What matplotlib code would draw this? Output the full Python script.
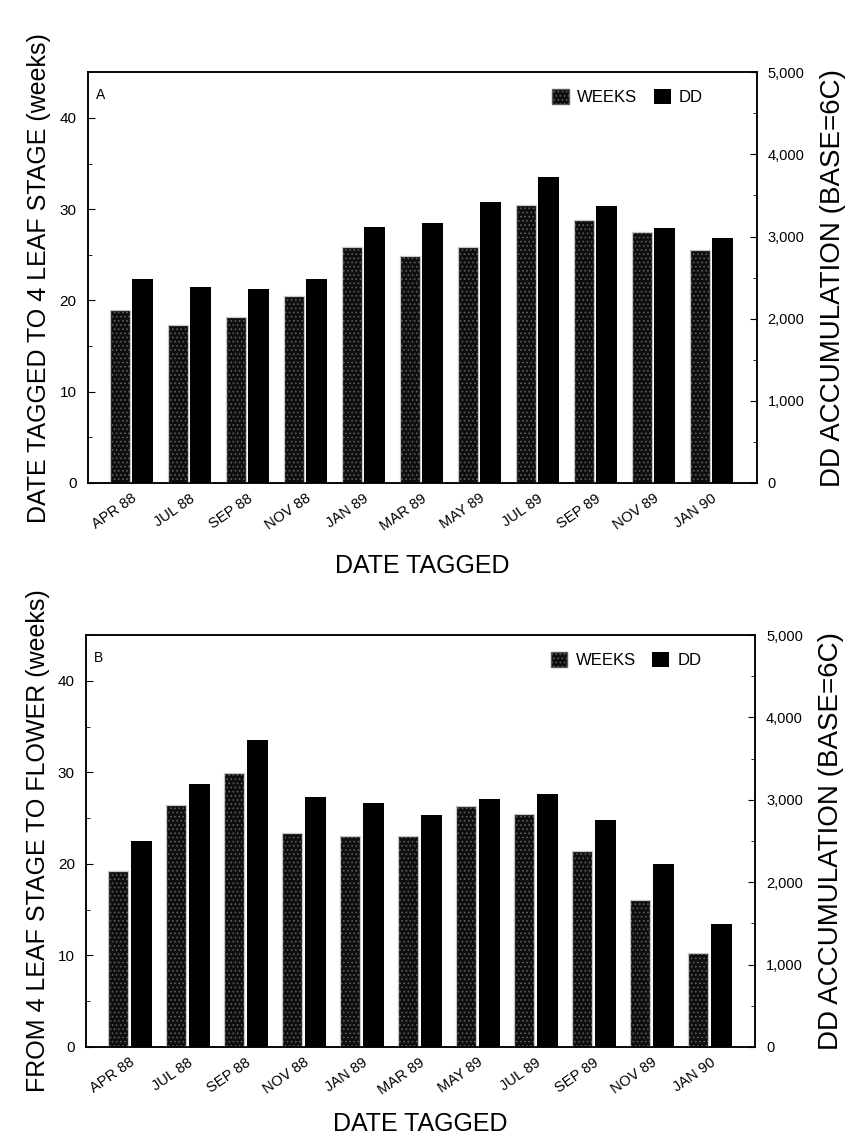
import numpy as np
import matplotlib.pyplot as plt
from matplotlib.patches import Patch
from matplotlib.ticker import MultipleLocator, FuncFormatter

plt.rcParams['font.family'] = ['Liberation Sans', 'DejaVu Sans']
plt.rcParams['hatch.linewidth'] = 0.7

dates = ["APR 88", "JUL 88", "SEP 88", "NOV 88", "JAN 89", "MAR 89",
         "MAY 89", "JUL 89", "SEP 89", "NOV 89", "JAN 90"]

# panel A: date tagged -> 4 leaf stage
weeks_a = [18.9, 17.3, 18.2, 20.5, 25.8, 24.9, 25.8, 30.5, 28.8, 27.5, 25.5]
dd_a = [2480, 2390, 2360, 2480, 3120, 3170, 3420, 3720, 3370, 3100, 2980]

# panel B: 4 leaf stage -> flower
weeks_b = [19.2, 26.4, 29.9, 23.4, 23.0, 23.0, 26.3, 25.5, 21.4, 16.1, 10.3]
dd_b = [2500, 3190, 3730, 3030, 2960, 2810, 3010, 3070, 2760, 2220, 1490]

WEEK_FACE = "#0e0e0e"
WEEK_DOTS = "#5c5c5c"
WEEK_EDGE = "#c8c8c8"


def draw_panel(ax, weeks, dd, letter, ylabel, xpad):
    x = np.arange(len(dates))
    ax2 = ax.twinx()
    # speckled weeks bars: dotted fill, then a light outline on top
    ax.bar(x - 0.2, weeks, 0.34, color=WEEK_FACE, edgecolor=WEEK_DOTS,
           hatch="....", linewidth=0, zorder=2)
    ax.bar(x - 0.2, weeks, 0.34, fill=False, edgecolor=WEEK_EDGE,
           linewidth=0.9, zorder=3)
    ax2.bar(x + 0.2, dd, 0.36, color="black", zorder=2)

    ax.set_xlim(-0.75, 10.78)
    ax.set_ylim(0, 45)
    ax2.set_ylim(0, 5000)

    ax.yaxis.set_major_locator(MultipleLocator(10))
    ax.yaxis.set_minor_locator(MultipleLocator(5))
    ax2.yaxis.set_major_locator(MultipleLocator(1000))
    ax2.yaxis.set_minor_locator(MultipleLocator(500))
    ax2.yaxis.set_major_formatter(FuncFormatter(lambda v, p: f"{int(v):,}"))

    ax.tick_params(axis="y", which="major", direction="in", length=5,
                   labelsize=11, pad=8)
    ax.tick_params(axis="y", which="minor", direction="in", length=3)
    ax2.tick_params(axis="y", which="major", direction="in", length=5,
                    labelsize=10.5, pad=8)
    ax2.tick_params(axis="y", which="minor", direction="in", length=3)

    ax.set_xticks(x)
    ax.set_xticklabels(dates, rotation=35, ha="right",
                       rotation_mode="anchor", fontsize=10.5)
    ax.tick_params(axis="x", length=0, pad=6)

    for sp in list(ax.spines.values()) + list(ax2.spines.values()):
        sp.set_linewidth(1.1)

    ax.set_xlabel("DATE TAGGED", fontsize=18, labelpad=xpad)
    ax.set_ylabel(ylabel, fontsize=18, labelpad=6)
    ax2.set_ylabel("DD ACCUMULATION (BASE=6C)", fontsize=20, labelpad=11)

    ax.text(0.012, 0.945, letter, transform=ax.transAxes, fontsize=10,
            va="center", ha="left")

    handles = [Patch(facecolor=WEEK_FACE, edgecolor=WEEK_DOTS, hatch="...."),
               Patch(facecolor="black")]
    ax2.legend(handles, ["WEEKS", "DD"], loc="upper right", ncol=2,
               frameon=False, fontsize=12, handlelength=1.0,
               handleheight=1.0, handletextpad=0.5, columnspacing=1.0,
               bbox_to_anchor=(0.93, 0.975), borderaxespad=0)


fig = plt.figure(figsize=(8.52, 11.41), dpi=100)
ax_a = fig.add_axes([0.103, 0.5767, 0.785, 0.360])
ax_b = fig.add_axes([0.101, 0.0824, 0.785, 0.361])

draw_panel(ax_a, weeks_a, dd_a, "A", "DATE TAGGED TO 4 LEAF STAGE (weeks)", 15)
draw_panel(ax_b, weeks_b, dd_b, "B", "FROM 4 LEAF STAGE TO FLOWER (weeks)", 11)

fig.savefig("out.png", dpi=100)
